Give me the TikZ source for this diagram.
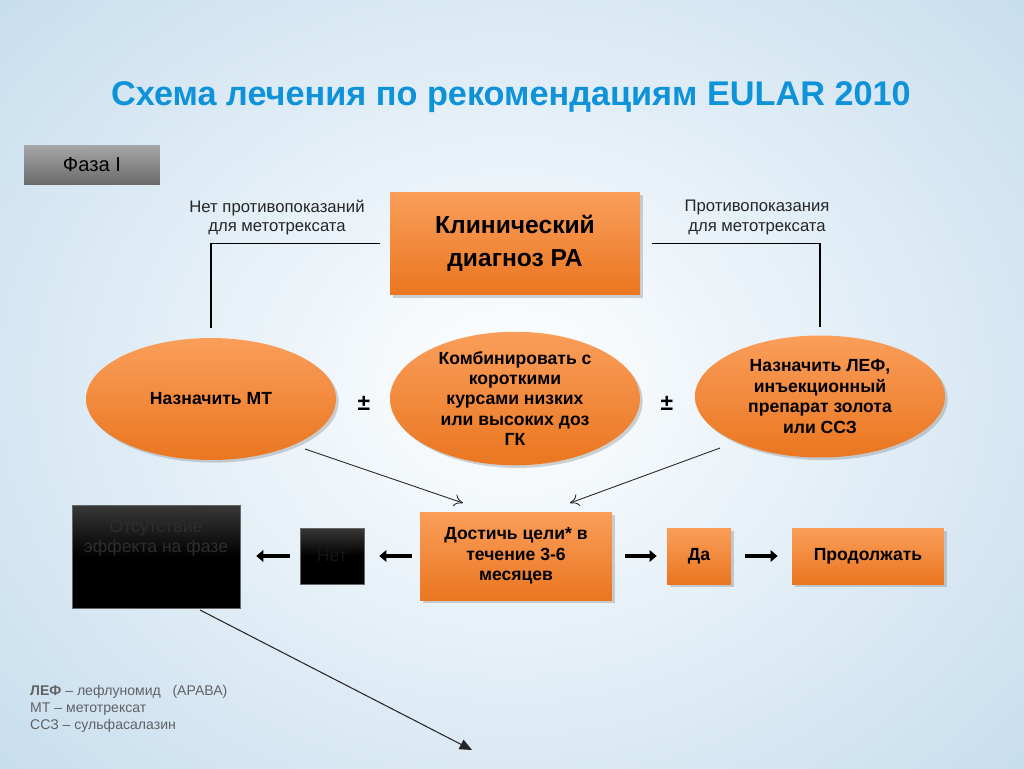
\documentclass[tikz,border=0pt]{standalone}
\usepackage{fontspec}
\setmainfont{Liberation Sans}
\usetikzlibrary{shapes.geometric,arrows.meta,shadows}
\definecolor{titleblue}{RGB}{14,146,218}
\definecolor{orangetop}{RGB}{250,158,90}
\definecolor{orangebot}{RGB}{234,118,32}
\definecolor{bgblue}{RGB}{196,220,237}
\begin{document}
\begin{tikzpicture}[x=0.02cm,y=-0.02cm,
  shad/.style={drop shadow={opacity=0.35,shadow xshift=1.5pt,shadow yshift=-1.5pt}},
  obox/.style={rectangle,top color=orangetop,bottom color=orangebot,draw=none,shad,
     inner sep=2pt,align=center,font=\bfseries\fontsize{10}{11.6}\selectfont},
  oell/.style={ellipse,top color=orangetop,bottom color=orangebot,draw=none,shad,
     inner sep=0pt,minimum width=5cm,minimum height=2.44cm,align=center,
     font=\bfseries\fontsize{10}{11.6}\selectfont},
  bbox/.style={rectangle,top color=black!78,bottom color=black,middle color=black,draw=black!60,line width=0.3pt,
     inner sep=2pt,align=center,text=black!82,font=\fontsize{10}{11.3}\selectfont},
  lbl/.style={align=center,font=\fontsize{9.5}{11}\selectfont,text=black!85},
  conn/.style={draw=black,line width=0.7pt},
  thinarr/.style={draw=black!85,line width=0.5pt,-{To[length=5pt,width=7pt]}},
  thickarr/.style={draw=black,line width=2.2pt,-{Triangle[length=4pt,width=6.5pt]}},
  pm/.style={font=\bfseries\fontsize{13}{13}\selectfont}
]
\useasboundingbox (0,0) rectangle (1024,768);
\shade[inner color=white,outer color=bgblue] (-220,-220) rectangle (1244,988);

% title
\node[font=\bfseries\fontsize{19.5}{22}\selectfont,text=titleblue] (title) at (511,97) {Схема лечения по рекомендациям EULAR 2010};

% phase
\node[rectangle,top color=black!35,bottom color=black!58,draw=none,minimum width=2.72cm,minimum height=0.78cm,
  font=\fontsize{11.5}{13}\selectfont] (phase) at (92,164.5) {Фаза I};

% top box
\node[obox,minimum width=5cm,minimum height=2.06cm,font=\bfseries\fontsize{14}{18.5}\selectfont] (klin) at (515,243.5) {Клинический\\диагноз РА};

\node[lbl] (lno) at (277,217.5) {Нет противопоказаний\\для метотрексата};
\node[lbl] (lyes) at (757,217.5) {Противопоказания\\для метотрексата};

% ellipses
\node[oell] (mt) at (211,399) {Назначить МТ};
\node[oell] (comb) at (515,398.5) {Комбинировать с\\короткими\\курсами низких\\или высоких доз\\ГК};
\node[oell] (lef) at (820,396.5) {Назначить ЛЕФ,\\инъекционный\\препарат золота\\или ССЗ};

\node[pm] (pm1) at (364,403) {±};
\node[pm] (pm2) at (667,403) {±};

% connectors from top box
\draw[conn,shorten <=0.2cm,shorten >=0.2cm] (klin.west) -| (mt.north);
\draw[conn,shorten <=0.24cm,shorten >=0.16cm] (klin.east) -| (lef.north);

% lower row
\node[obox,minimum width=3.84cm,minimum height=1.76cm] (goal) at (516,556) {Достичь цели* в\\течение 3-6\\месяцев};
\node[obox,minimum width=1.28cm,minimum height=1.12cm] (da) at (699,556) {Да};
\node[obox,minimum width=3.04cm,minimum height=1.12cm] (cont) at (868,556) {Продолжать};
\node[bbox,minimum width=1.28cm,minimum height=1.12cm,text=black!92] (net) at (332,556) {Нет};
\node[bbox,minimum width=3.36cm,minimum height=2.06cm] (noeff) at (156,556.5) {Отсутствие\\эффекта на фазе\\\mbox{}\\\mbox{}};

\coordinate (a1s) at (305,449);
\coordinate (a1e) at (463,503);
\coordinate (a2s) at (720,448);
\coordinate (a2e) at (570,503);
\draw[thinarr] (a1s) -- (a1e);
\draw[thinarr] (a2s) -- (a2e);

\draw[thickarr,shorten <=0.16cm,shorten >=0.30cm] (goal.west) -- (net.east);
\draw[thickarr,shorten <=0.2cm,shorten >=0.32cm] (net.west) -- (net.west -| noeff.east);
\draw[thickarr,shorten <=0.26cm,shorten >=0.2cm] (goal.east) -- (da.west);
\draw[thickarr,shorten <=0.28cm,shorten >=0.28cm] (da.east) -- (cont.west);

\coordinate (bend) at (472,750);
\coordinate (bstart) at (200,610);
\draw[draw=black!85,line width=0.6pt,-{Triangle[length=7pt,width=6pt]}] (bstart) -- (bend);

% legend
\node[anchor=north west,align=left,text=black!62,font=\fontsize{8}{9.6}\selectfont] (legend) at (24,679)
  {\textbf{ЛЕФ} – лефлуномид \ \ (АРАВА)\\МТ – метотрексат\\ССЗ – сульфасалазин};
\end{tikzpicture}
\end{document}
